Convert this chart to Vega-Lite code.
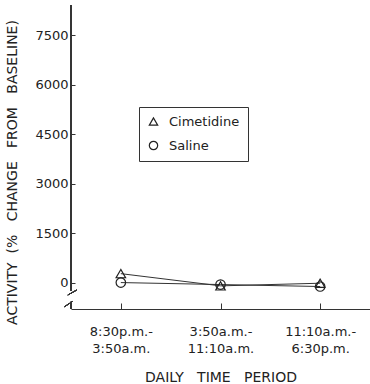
{
  "$schema": "https://vega.github.io/schema/vega-lite/v6.json",
  "width": 299,
  "height": 304,
  "autosize": {"type": "none"},
  "padding": {"left": 71, "top": 5, "right": 0, "bottom": 75},
  "background": "white",
  "config": {
    "view": {"stroke": null},
    "font": "DejaVu Sans",
    "axis": {"grid": false, "labelColor": "#222", "titleColor": "#222", "tickColor": "#333", "domainColor": "#333", "labelFont": "DejaVu Sans", "titleFont": "DejaVu Sans", "titleFontWeight": "normal"}
  },
  "data": {"values": [
    {"period": 1, "series": "Cimetidine", "value": 280},
    {"period": 2, "series": "Cimetidine", "value": -90},
    {"period": 3, "series": "Cimetidine", "value": -10},
    {"period": 1, "series": "Saline", "value": 10},
    {"period": 2, "series": "Saline", "value": -50},
    {"period": 3, "series": "Saline", "value": -110}
  ]},
  "encoding": {
    "x": {"field": "period", "type": "quantitative", "scale": {"domain": [0.5, 3.5], "nice": false, "zero": false},
      "axis": {"values": [1, 2, 3], "domain": true, "tickSize": -6, "labelFontSize": 13, "labelPadding": 22, "labelLineHeight": 17, "labelBaseline": "top",
        "labelExpr": "datum.value == 1 ? ['8:30p.m.-', '3:50a.m.'] : datum.value == 2 ? ['3:50a.m.-', '11:10a.m.'] : ['11:10a.m.-', '6:30p.m.']",
        "title": "DAILY\u00a0\u00a0\u00a0TIME\u00a0\u00a0\u00a0PERIOD", "titleFontSize": 14, "titlePadding": 15}},
    "y": {"field": "value", "type": "quantitative", "scale": {"domain": [-790, 8410], "nice": false, "zero": false},
      "axis": {"values": [0, 1500, 3000, 4500, 6000, 7500], "format": "d", "domain": false, "tickSize": -4, "labelFontSize": 13, "labelPadding": 7,
        "title": "ACTIVITY\u00a0\u00a0(%\u00a0\u00a0\u00a0CHANGE\u00a0\u00a0\u00a0FROM\u00a0\u00a0\u00a0BASELINE)", "titleFontSize": 14, "titleX": -59, "titleY": 167, "titleAngle": -90, "titleAlign": "center", "titleBaseline": "middle"}}
  },
  "layer": [
    {"mark": {"type": "rule", "color": "#333", "strokeWidth": 1}, "encoding": {"x": {"datum": 0.5}, "y": {"datum": 8410}, "y2": {"datum": -245}}},
    {"mark": {"type": "rule", "color": "#333", "strokeWidth": 1}, "encoding": {"x": {"datum": 0.5}, "y": {"datum": -570}, "y2": {"datum": -790}}},
    {"mark": {"type": "rule", "color": "#333", "strokeWidth": 1}, "encoding": {"x": {"datum": 0.468}, "x2": {"datum": 0.558}, "y": {"datum": -366}, "y2": {"datum": -215}}},
    {"mark": {"type": "rule", "color": "#333", "strokeWidth": 1}, "encoding": {"x": {"datum": 0.435}, "x2": {"datum": 0.515}, "y": {"datum": -720}, "y2": {"datum": -563}}},
    {"mark": {"type": "line", "color": "#333", "strokeWidth": 1}, "encoding": {"detail": {"field": "series"}}},
    {"mark": {"type": "point", "filled": false, "color": "#222", "strokeWidth": 1.2, "size": 90, "opacity": 1},
      "encoding": {"shape": {"field": "series", "type": "nominal", "scale": {"domain": ["Cimetidine", "Saline"], "range": ["triangle-up", "circle"]},
        "legend": {"title": null, "orient": "none", "legendX": 68, "legendY": 102, "strokeColor": "#333", "padding": 8, "labelFontSize": 13, "labelFont": "DejaVu Sans", "labelColor": "#222", "symbolSize": 70, "symbolStrokeWidth": 1.2, "rowPadding": 9, "labelOffset": 9}}}}
  ]
}
